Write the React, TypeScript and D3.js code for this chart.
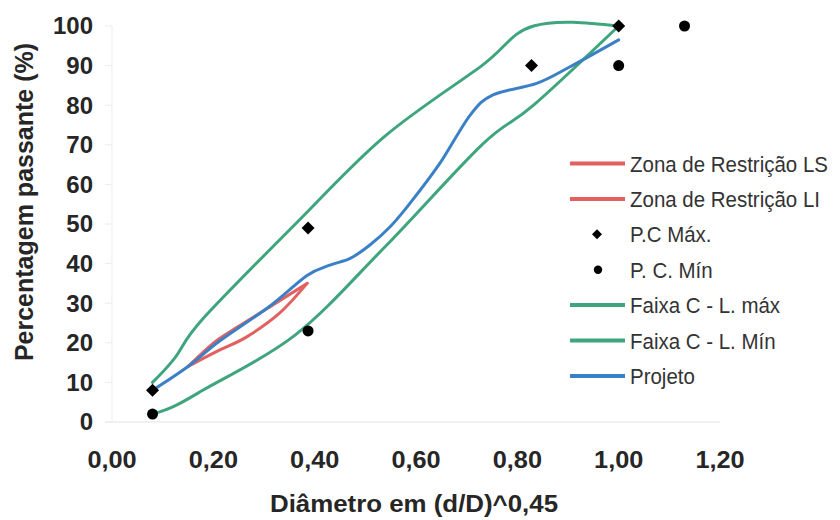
import React from "react";
import * as d3 from "d3";

// Grading band positions, (d/D)^0.45
const sieveX = [0.08, 0.123, 0.179, 0.362, 0.537, 0.73, 0.832, 1.0];
const faixaMaxY = [10, 16, 26, 50, 72, 90, 100, 100];
const faixaMinY = [2, 4, 8, 22, 44, 70, 80, 100];

// Design curve
const projetoX = [0.08, 0.15, 0.213, 0.312, 0.385, 0.43, 0.47, 0.509, 0.549, 0.588, 0.647, 0.707, 0.752, 0.838, 0.904, 1.0];
const projetoY = [8, 14, 20.5, 29.3, 37, 39.6, 41.3, 44.7, 49.3, 55.2, 65.3, 77.5, 82.6, 85.5, 89.7, 96.5];

// Restricted zone limits
const zonaLsX = [0.15, 0.2, 0.233, 0.312, 0.364, 0.385];
const zonaLsY = [14, 19.9, 22.8, 29.1, 33.3, 35];
const zonaLiX = [0.15, 0.167, 0.213, 0.266, 0.33, 0.385];
const zonaLiY = [14, 15.2, 18.2, 21.5, 27.4, 35];

// Control points
const pcMaxX = [0.08, 0.387, 0.828, 1.0];
const pcMaxY = [8, 49, 90, 100];
const pcMinX = [0.08, 0.387, 1.0, 1.13];
const pcMinY = [2, 23, 90, 100];

const xTicks = [0, 0.2, 0.4, 0.6, 0.8, 1.0, 1.2];
const yTicks = [0, 10, 20, 30, 40, 50, 60, 70, 80, 90, 100];

const legendLabels = [
  "Zona de Restrição LS",
  "Zona de Restrição LI",
  "P.C Máx.",
  "P. C. Mín",
  "Faixa C - L. máx",
  "Faixa C - L. Mín",
  "Projeto",
];

const GREEN = "#3fa57c";
const BLUE = "#3b80c6";
const RED = "#e2605f";

const zip = (xs: number[], ys: number[]) => xs.map((x, i) => [x, ys[i]] as [number, number]);

// Smoothed line as cubic Béziers: interior tangents from neighbouring points,
// free ends take half of the neighbouring control vector.
function smoothPath(pts: [number, number][], k = 1 / 6): string {
  const n = pts.length;
  if (n < 2) return "";
  const path = d3.path();
  path.moveTo(pts[0][0], pts[0][1]);
  for (let i = 0; i < n - 1; i++) {
    const p0 = i > 0 ? pts[i - 1] : null;
    const p1 = pts[i];
    const p2 = pts[i + 1];
    const p3 = i + 2 < n ? pts[i + 2] : null;
    let c1: [number, number] | null = p0 ? [p1[0] + (p2[0] - p0[0]) * k, p1[1] + (p2[1] - p0[1]) * k] : null;
    let c2: [number, number] | null = p3 ? [p2[0] - (p3[0] - p1[0]) * k, p2[1] - (p3[1] - p1[1]) * k] : null;
    if (!c1 && !c2) {
      c1 = [p1[0] + (p2[0] - p1[0]) / 3, p1[1] + (p2[1] - p1[1]) / 3];
      c2 = [p1[0] + (2 * (p2[0] - p1[0])) / 3, p1[1] + (2 * (p2[1] - p1[1])) / 3];
    } else if (!c1 && c2) {
      c1 = [p1[0] + (c2[0] - p1[0]) / 2, p1[1] + (c2[1] - p1[1]) / 2];
    } else if (c1 && !c2) {
      c2 = [p2[0] + (c1[0] - p2[0]) / 2, p2[1] + (c1[1] - p2[1]) / 2];
    }
    path.bezierCurveTo(c1![0], c1![1], c2![0], c2![1], p2[0], p2[1]);
  }
  return path.toString();
}

export default function App() {
  const x = d3.scaleLinear().domain([0, 1.2]).range([112, 720]);
  const y = d3.scaleLinear().domain([0, 100]).range([422, 26]);

  const toPx = (pts: [number, number][]) => pts.map((d) => [x(d[0]), y(d[1])] as [number, number]);

  const fmt = (v: number) => d3.format(".2f")(v).replace(".", ",");

  const diamond = (cx: number, cy: number, r: number) =>
    `M${cx},${cy - r}L${cx + r},${cy}L${cx},${cy + r}L${cx - r},${cy}Z`;

  const series = [
    { kind: "line", color: RED, pts: zip(zonaLsX, zonaLsY) },
    { kind: "line", color: RED, pts: zip(zonaLiX, zonaLiY) },
    { kind: "diamond", pts: zip(pcMaxX, pcMaxY) },
    { kind: "circle", pts: zip(pcMinX, pcMinY) },
    { kind: "line", color: GREEN, pts: zip(sieveX, faixaMaxY) },
    { kind: "line", color: GREEN, pts: zip(sieveX, faixaMinY) },
    { kind: "line", color: BLUE, pts: zip(projetoX, projetoY) },
  ];

  const legendY0 = 163.5;
  const legendStep = 35.4;

  return (
    <svg
      width={840}
      height={520}
      style={{ position: "absolute", left: 0, top: 0, background: "#fff" }}
      fontFamily="'Liberation Sans', Arial, sans-serif"
    >
      <rect width={840} height={520} fill="#fff" />

      {/* faint axis frame and tick stubs */}
      <line x1={x(0)} x2={x(0)} y1={y(100)} y2={y(0)} stroke="#ececec" strokeWidth={1} />
      <line x1={105} x2={x(1.2)} y1={y(0)} y2={y(0)} stroke="#e4e4e4" strokeWidth={1.2} />
      {yTicks.map((t) => (
        <line key={"ys" + t} x1={105} x2={x(0)} y1={y(t)} y2={y(t)} stroke="#ececec" strokeWidth={1} />
      ))}

      {/* y tick labels */}
      {yTicks.map((t) => (
        <text
          key={"yt" + t}
          x={93}
          y={y(t)}
          dy="0.35em"
          textAnchor="end"
          fontSize={24}
          fontWeight="bold"
          fill="#262626"
        >
          {t}
        </text>
      ))}

      {/* x tick labels */}
      {xTicks.map((t) => (
        <text
          key={"xt" + t}
          transform={`translate(${x(t)},468) scale(1.1,1)`}
          textAnchor="middle"
          fontSize={23}
          fontWeight="bold"
          fill="#262626"
        >
          {fmt(t)}
        </text>
      ))}

      {/* axis titles */}
      <text
        x={414}
        y={512}
        textAnchor="middle"
        fontSize={24}
        fontWeight="bold"
        fill="#262626"
        textLength={288}
        lengthAdjust="spacingAndGlyphs"
      >
        Diâmetro em (d/D)^0,45
      </text>
      <text
        transform="translate(33,202) rotate(-90)"
        textAnchor="middle"
        fontSize={25}
        fontWeight="bold"
        fill="#262626"
      >
        Percentagem passante (%)
      </text>

      {/* data lines */}
      {series.map((s, i) =>
        s.kind === "line" ? (
          <path key={"l" + i} d={smoothPath(toPx(s.pts))} fill="none" stroke={s.color} strokeWidth={3} strokeLinejoin="round" strokeLinecap="round" />
        ) : null
      )}

      {/* markers */}
      {series.map((s, i) =>
        s.kind === "diamond"
          ? s.pts.map((p, j) => <path key={"d" + i + j} d={diamond(x(p[0]), y(p[1]), 6.5)} fill="#000" />)
          : s.kind === "circle"
          ? s.pts.map((p, j) => <circle key={"c" + i + j} cx={x(p[0])} cy={y(p[1])} r={5.5} fill="#000" />)
          : null
      )}

      {/* legend */}
      {series.map((s, i) => {
        const ly = legendY0 + i * legendStep;
        return (
          <g key={"lg" + i}>
            {s.kind === "line" && <line x1={570} x2={625} y1={ly} y2={ly} stroke={s.color} strokeWidth={4} />}
            {s.kind === "diamond" && <path d={diamond(597, ly, 5)} fill="#000" />}
            {s.kind === "circle" && <circle cx={598} cy={ly} r={4.2} fill="#000" />}
            <text
              transform={`translate(630,${ly}) scale(0.91,1)`}
              dy="0.36em"
              fontSize={22.5}
              fill="#333"
            >
              {legendLabels[i]}
            </text>
          </g>
        );
      })}
    </svg>
  );
}
